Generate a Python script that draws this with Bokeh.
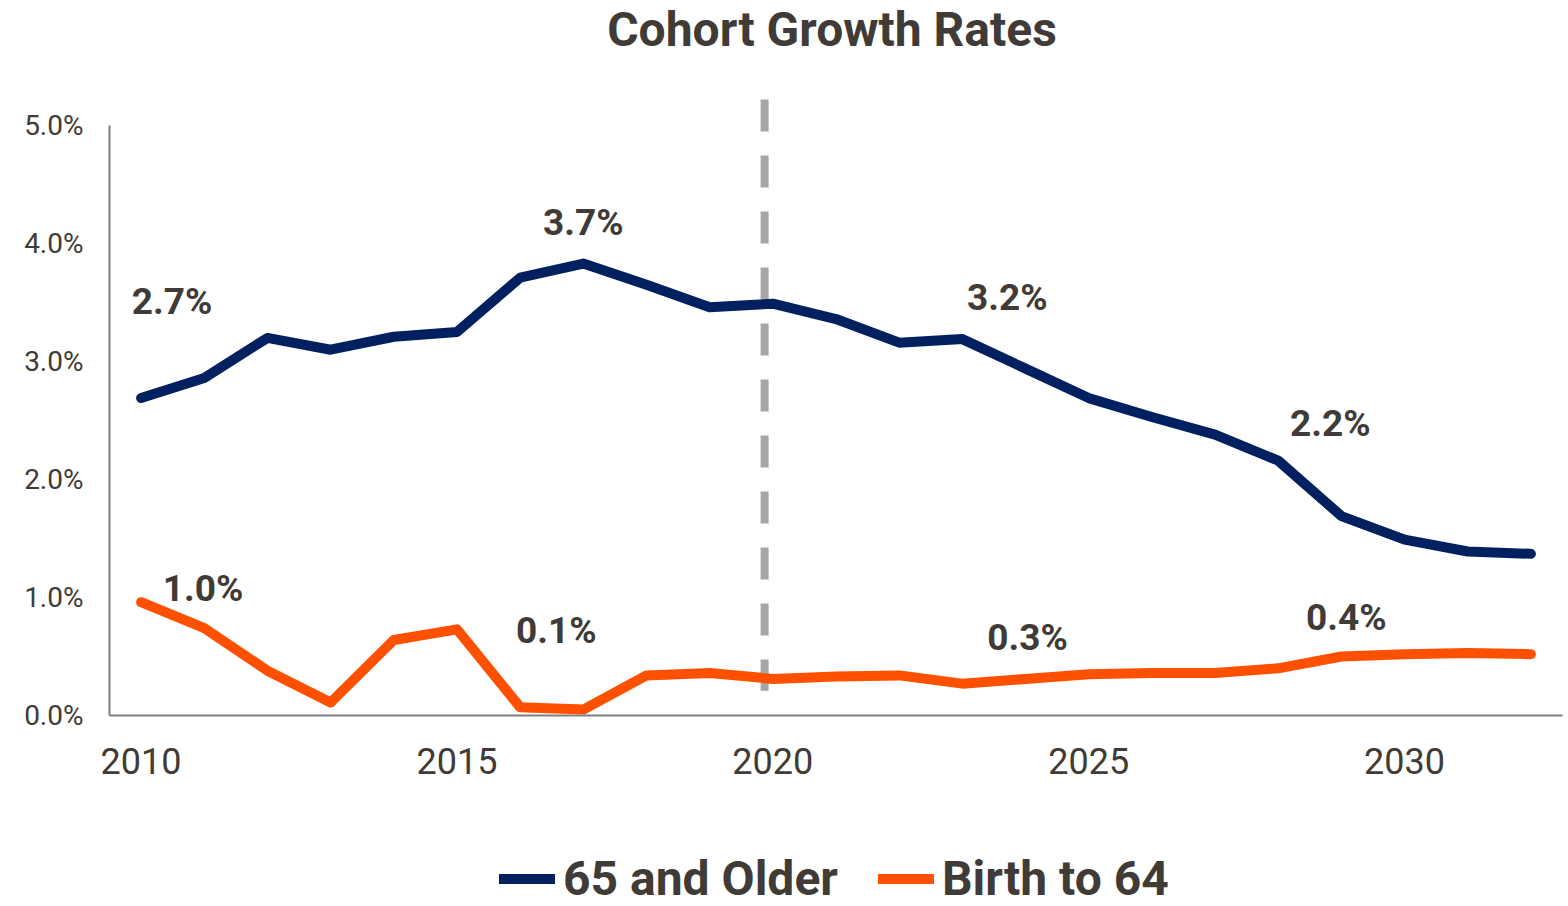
from bokeh.plotting import figure
from bokeh.layouts import column
from bokeh.models import (Range1d, FixedTicker, PrintfTickFormatter, Label,
                          Legend, LegendItem, ColumnDataSource)
from bokeh.embed import file_html
from bokeh.resources import INLINE
from bokeh.core.properties import value

# ---------------- data ----------------
years = list(range(2010, 2033))
older_65 = [2.69, 2.86, 3.20, 3.10, 3.21, 3.25, 3.71, 3.83, 3.65, 3.46, 3.49, 3.36,
            3.16, 3.19, 2.94, 2.69, 2.53, 2.38, 2.16, 1.69, 1.49, 1.39, 1.37]
birth_to_64 = [0.96, 0.74, 0.38, 0.11, 0.64, 0.73, 0.07, 0.05, 0.34, 0.36, 0.31, 0.33,
               0.34, 0.27, 0.31, 0.35, 0.36, 0.36, 0.40, 0.50, 0.52, 0.53, 0.52]
series_names = ["65 and Older", "Birth to 64"]
x_ticks = [2010, 2015, 2020, 2025, 2030]
y_ticks = [0, 1, 2, 3, 4, 5]
title_text = "Cohort Growth Rates"

label_texts = ["2.7%", "3.7%", "3.2%", "2.2%", "1.0%", "0.1%", "0.3%", "0.4%"]
label_series = [0, 0, 0, 0, 1, 1, 1, 1]
label_years = [2010, 2017, 2023, 2028, 2010, 2017, 2024, 2029]

forecast_year = 2019.87
forecast_span = (0.21, 5.22)

# ---------------- styles ----------------
TEXT = "#403B36"
BLUE = "#002060"
ORANGE = "#FF5000"
FONT = "Roboto"
W = 1564
LEFT = 109
RIGHT = 2
label_dx = [31, 0, 45, 52, 62, -27, 2, 5]
label_dy = [-97, -41, -42, -37, -14, -79, -41, -39]


def strip(height):
    f = figure(width=W, height=height, output_backend="svg", toolbar_location=None,
               x_range=Range1d(0, 1), y_range=Range1d(0, 1),
               x_axis_location=None, y_axis_location=None,
               min_border=0, min_border_left=LEFT, min_border_right=RIGHT,
               outline_line_color=None)
    f.xgrid.visible = False
    f.ygrid.visible = False
    return f


# ---------------- title strip ----------------
pt = strip(58)
pt.add_layout(Label(x=722.5, y=29, x_units="screen", y_units="screen",
                    text=title_text, text_align="center", text_baseline="alphabetic",
                    text_font=FONT, text_font_style="bold", text_font_size="48px",
                    text_color=TEXT))

# ---------------- main chart ----------------
p = figure(width=W, height=792, output_backend="svg", toolbar_location=None,
           x_range=Range1d(2009.5, 2032.5), y_range=Range1d(0, 5.246),
           min_border_left=LEFT, min_border_right=RIGHT, min_border_top=38,
           min_border_bottom=135)
p.outline_line_color = None
p.xgrid.visible = False
p.ygrid.visible = False
p.background_fill_color = "white"

# forecast divider
p.segment(x0=[forecast_year], y0=[forecast_span[1]], x1=[forecast_year], y1=[forecast_span[0]],
          line_color="#A6A6A6", line_width=8, line_dash="32 24", line_cap="butt")

src = ColumnDataSource(dict(year=years, older=older_65, young=birth_to_64))
r1 = p.line("year", "older", source=src, line_color=BLUE, line_width=10,
            line_join="round", line_cap="round")
r2 = p.line("year", "young", source=src, line_color=ORANGE, line_width=10,
            line_join="round", line_cap="round")

# data labels
series_vals = [older_65, birth_to_64]
ly = [series_vals[s][years.index(yr)] for s, yr in zip(label_series, label_years)]
lsrc = ColumnDataSource(dict(x=label_years, y=ly, t=label_texts, dx=label_dx, dy=label_dy))
p.text(x="x", y="y", text="t", source=lsrc, x_offset="dx", y_offset="dy",
       text_align="center", text_baseline="middle", text_color=TEXT,
       text_font=value(FONT), text_font_style="bold", text_font_size="37px")

# axes
xa = p.xaxis[0]
xa.ticker = FixedTicker(ticks=x_ticks)
xa.axis_line_color = "#7F7F7F"
xa.axis_line_width = 2
xa.major_tick_line_color = None
xa.minor_tick_line_color = None
xa.major_tick_out = 0
xa.major_tick_in = 0
xa.major_label_text_font = FONT
xa.major_label_text_font_size = "36px"
xa.major_label_text_color = TEXT
xa.major_label_standoff = 32

ya = p.yaxis[0]
ya.ticker = FixedTicker(ticks=y_ticks)
ya.bounds = (0, 5)
ya.formatter = PrintfTickFormatter(format="%.1f%%")
ya.axis_line_color = "#7F7F7F"
ya.axis_line_width = 2
ya.major_tick_line_color = None
ya.minor_tick_line_color = None
ya.major_tick_out = 0
ya.major_tick_in = 0
ya.major_label_text_font = FONT
ya.major_label_text_font_size = "28px"
ya.major_label_text_color = TEXT
ya.major_label_standoff = 26

# ---------------- legend strip ----------------
pl = strip(56)
lsrc2 = ColumnDataSource(dict(year=years, older=older_65, young=birth_to_64))
k1 = pl.line("year", "older", source=lsrc2, line_color=BLUE, line_width=10, line_cap="round")
k2 = pl.line("year", "young", source=lsrc2, line_color=ORANGE, line_width=10, line_cap="round")
legend = Legend(items=[LegendItem(label=series_names[0], renderers=[k1]),
                       LegendItem(label=series_names[1], renderers=[k2])],
                orientation="horizontal", location="center_left",
                border_line_color=None, background_fill_alpha=0,
                padding=0, margin=390, spacing=40, label_standoff=8,
                glyph_width=56, glyph_height=20,
                label_text_font=FONT, label_text_font_style="bold",
                label_text_font_size="48px", label_text_color=TEXT)
pl.add_layout(legend, "center")

layout = column(pt, p, pl, spacing=0)
open("out.html", "w").write(file_html(layout, INLINE))
